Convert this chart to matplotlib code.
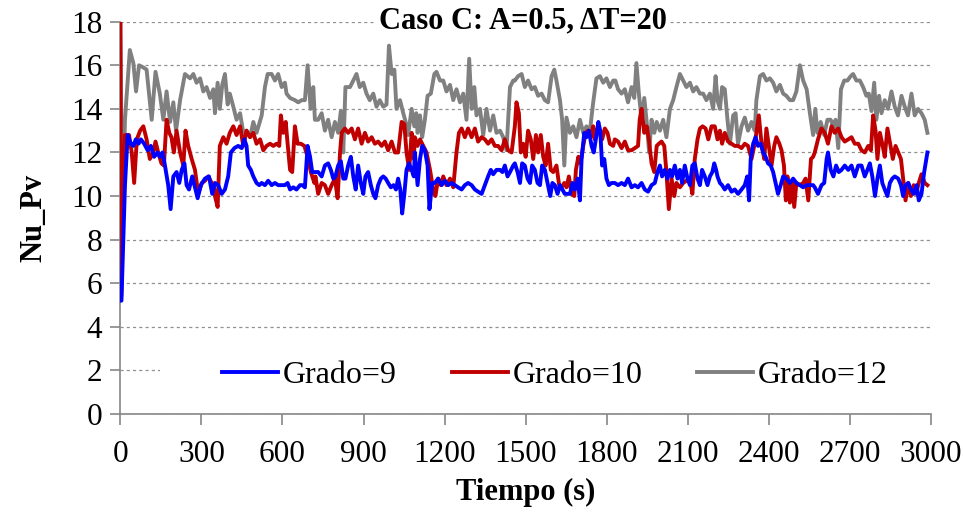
import matplotlib
matplotlib.use("Agg")
import matplotlib.pyplot as plt
from matplotlib.patches import Rectangle

plt.rcParams['font.family'] = ['Liberation Serif', 'DejaVu Serif']

# Grado=9 (blue)
t_9 = [0, 4, 17, 27, 39, 48, 57, 67, 76, 88, 101, 113, 125, 138, 146, 156, 165, 177, 186,
       196, 208, 218, 227, 237, 245, 254, 266, 276, 286, 298, 313, 328, 340,
       350, 362, 375, 387, 399, 409, 422, 436, 449, 459, 467, 473, 483, 492, 504, 514,
       523, 535, 547, 560, 572, 584, 597, 609, 619, 628, 640, 652, 665, 673, 683, 693,
       702, 710,
       720, 732, 745, 757, 769, 779, 788, 796, 806, 816, 825, 833, 843, 853, 862, 871,
       880, 890, 899, 907, 917, 927, 936, 944, 954, 964, 973, 982, 991, 1001, 1011,
       1020, 1028, 1036, 1043, 1051, 1059, 1068, 1078, 1086,
       1090, 1100, 1109, 1117, 1127, 1137, 1144, 1154, 1164, 1176, 1189, 1201, 1213,
       1226, 1238, 1250, 1263, 1275, 1287, 1300, 1312, 1324, 1337, 1349, 1361, 1371,
       1380, 1392, 1405, 1414, 1423, 1433, 1442, 1454,
       1460, 1470, 1479, 1487, 1497, 1507, 1516, 1524, 1534, 1544, 1553, 1561, 1571,
       1581, 1591, 1599, 1608, 1618, 1627, 1636, 1645, 1655, 1664, 1673, 1682, 1692,
       1701, 1707, 1717, 1725, 1734, 1744, 1752, 1761, 1769, 1776, 1783, 1791, 1799,
       1808, 1818,
       1830, 1842, 1855, 1867, 1879, 1892, 1904, 1916, 1929, 1941, 1953, 1966, 1978,
       1988, 1997, 2005, 2015, 2025, 2034, 2042, 2052, 2062, 2071, 2079, 2089, 2099,
       2108, 2117, 2126, 2136, 2145, 2153, 2163, 2173, 2182, 2191, 2198,
       2205, 2210, 2219, 2227, 2237, 2249, 2262, 2274, 2286, 2299, 2311, 2320, 2327,
       2333, 2342, 2351, 2360, 2370, 2379, 2388, 2397, 2407, 2416, 2425, 2434, 2444,
       2453, 2465, 2478, 2490, 2502, 2515, 2527, 2540, 2552, 2564,
       2570, 2582, 2595, 2605, 2614, 2619, 2629, 2639, 2649, 2659, 2669, 2681, 2694,
       2706, 2718, 2731, 2743, 2755, 2765, 2774, 2783, 2793, 2802, 2811, 2820, 2829,
       2839, 2848, 2857, 2866, 2879, 2889, 2897, 2906, 2916, 2926, 2936, 2947, 2955,
       2965, 2975, 2987]
nu_9 = [5.2, 5.2, 10.5, 12.8, 12.4, 12.3, 12.6, 12.4, 12.6, 12.4, 12.1, 12.3, 11.8, 12.0,
        11.8, 12.0, 11.4, 10.5, 9.4, 10.9, 11.1, 10.6, 11.2, 11.5, 10.5, 10.3, 10.9,
        10.4, 9.9, 10.5, 10.8, 10.9, 10.1,
        10.6, 10.5, 10.1, 10.3, 10.9, 12.0, 12.2, 12.3, 12.2, 12.6, 12.3, 11.4, 11.2,
        10.9, 10.6, 10.5, 10.6, 10.5, 10.7, 10.5, 10.6, 10.5, 10.5, 10.5, 10.6, 10.3,
        10.4, 10.3, 10.5, 10.5, 10.4, 12.3, 11.8, 11.1,
        11.1, 11.1, 10.9, 11.4, 11.5, 11.2, 10.8, 10.9, 11.4, 11.6, 10.8, 10.8, 11.4,
        11.8, 10.9, 10.3, 11.4, 10.6, 10.1, 10.9, 11.1, 10.5, 10.1, 9.9, 10.5, 10.8,
        10.9, 10.8, 10.6, 10.4, 10.5, 10.3, 10.8, 10.3, 9.2, 10.1, 11.2, 11.5, 11.2,
        10.9,
        12.0, 10.5, 11.7, 12.3, 12.1, 11.4, 9.4, 10.6, 10.6, 10.8, 10.5, 10.7, 10.5,
        10.6, 10.5, 10.4, 10.3, 10.5, 10.6, 10.5, 10.3, 10.2, 10.1, 10.5, 10.9, 11.2,
        11.0, 11.2, 11.2, 11.1, 11.4, 10.9, 11.1, 11.4,
        11.5, 11.1, 10.6, 11.5, 11.4, 10.8, 10.6, 11.4, 11.2, 10.6, 10.5, 11.4, 11.2,
        10.6, 10.0, 10.6, 10.5, 10.1, 10.5, 10.3, 10.1, 10.1, 10.1, 10.6, 10.3, 10.8,
        9.8, 11.7, 12.9, 12.7, 13.0, 12.3, 12.0, 12.7, 13.4, 13.0, 11.4, 11.7, 10.8,
        10.5, 10.6,
        10.6, 10.5, 10.6, 10.5, 10.8, 10.4, 10.5, 10.4, 10.6, 10.3, 10.2, 10.5, 10.6,
        11.1, 11.4, 10.9, 11.2, 10.8, 11.2, 10.9, 11.4, 10.8, 11.2, 10.6, 11.4, 10.8,
        10.5, 11.4, 11.5, 10.8, 10.5, 11.2, 10.9, 10.5, 10.9, 11.1, 11.5,
        11.2, 10.9, 10.6, 10.5, 10.3, 10.5, 10.2, 10.3, 10.1, 10.3, 10.5, 10.9, 9.8,
        11.7, 12.4, 12.7, 12.3, 12.4, 12.0, 11.8, 11.5, 11.4, 11.1, 10.6, 10.1, 10.5,
        10.9, 10.8, 10.6, 10.8, 10.6, 10.5, 10.4, 10.5, 10.5, 10.5,
        10.4, 10.1, 10.5, 10.6, 11.7, 12.0, 11.2, 10.9, 11.4, 11.1, 11.2, 11.4, 11.2,
        11.4, 10.9, 11.4, 11.4, 10.9, 11.2, 11.5, 10.9, 10.0, 10.8, 11.4, 10.6, 10.3,
        10.0, 10.6, 10.8, 10.9, 10.8, 10.5, 10.0, 10.5, 10.6, 10.3, 10.1, 10.5, 9.8,
        10.1, 11.1, 12.0]

# Grado=10 (red)
t_10 = [0, 3, 8, 17, 32, 42, 51, 61, 73, 85, 97, 109, 122, 130, 140, 152, 161, 171, 181,
        189, 198, 208, 221, 233, 241, 251, 264, 276, 288, 301, 313, 325, 338, 346,
        350, 360, 368, 381, 393, 405, 418, 430, 443, 455, 467, 480, 492, 504, 517, 529,
        541, 554, 566, 578, 588, 594, 603, 612, 619, 628, 636, 646, 656, 668, 681, 693,
        705, 718,
        722, 732, 745, 757, 769, 782, 794, 804, 813, 819, 831, 843, 856, 868, 880, 893,
        905, 917, 930, 942, 954, 967, 979, 991, 1004, 1016, 1028, 1041, 1051, 1059,
        1069, 1078, 1086,
        1090, 1100, 1109, 1121, 1133, 1146, 1158, 1166, 1176, 1186, 1195, 1207, 1220,
        1232, 1244, 1253, 1263, 1275, 1287, 1300, 1312, 1324, 1337, 1349, 1361, 1374,
        1386, 1398, 1411, 1423, 1435, 1448,
        1460, 1466, 1475, 1482, 1491, 1500, 1509, 1519, 1528, 1538, 1546, 1556, 1565,
        1574, 1583, 1593, 1602, 1614, 1624, 1633, 1643, 1651, 1660, 1670, 1680, 1686,
        1695, 1703, 1713, 1722, 1731, 1741, 1750, 1756, 1766, 1776, 1783, 1793, 1803,
        1812, 1824,
        1830, 1842, 1855, 1867, 1879, 1892, 1904, 1916, 1922, 1929, 1939, 1948, 1956,
        1966, 1976, 1985, 1993, 2003, 2013, 2021, 2030, 2040, 2050, 2058, 2071, 2083,
        2095, 2108, 2117, 2126, 2136, 2145, 2155, 2166, 2176, 2188,
        2200, 2210, 2219, 2227, 2237, 2249, 2262, 2274, 2286, 2299, 2311, 2323, 2336,
        2346, 2354, 2363, 2373, 2383, 2391, 2400, 2410, 2420, 2428, 2439, 2447, 2456,
        2463, 2469, 2478, 2487, 2494, 2502, 2515, 2527, 2536, 2546, 2556, 2564,
        2570, 2582, 2595, 2607, 2619, 2632, 2644, 2657, 2669, 2681, 2694, 2706, 2718,
        2731, 2743, 2755, 2768, 2778, 2786, 2795, 2802, 2811, 2820, 2829, 2839, 2849,
        2859, 2869, 2879, 2889, 2897, 2906, 2916, 2926, 2936, 2945, 2955, 2965, 2977,
        2987]
nu_10 = [18.0, 5.4, 8.6, 12.8, 12.8, 12.0, 10.6, 12.6, 13.0, 13.2, 12.6, 11.7, 12.0, 12.5,
         12.0, 11.5, 11.4, 13.5, 12.9, 12.7, 12.0, 13.0, 12.0, 11.4, 13.0, 12.3, 11.7,
         11.2, 10.1, 10.6, 10.7, 10.9, 10.6, 10.5,
         10.0, 9.5, 12.3, 12.7, 12.4, 12.9, 13.2, 12.8, 13.2, 12.3, 13.0, 12.7, 12.9,
         12.4, 12.6, 12.1, 12.3, 12.4, 12.3, 12.4, 12.3, 13.7, 12.9, 13.4, 12.4, 11.2,
         11.1, 13.2, 12.4, 12.4, 12.3, 11.8, 11.1, 10.6,
         10.9, 10.1, 10.6, 10.5, 10.1, 10.5, 10.8, 9.9, 12.0, 12.9, 13.1, 12.9, 13.1,
         12.6, 13.1, 12.4, 12.9, 12.5, 12.7, 12.4, 12.5, 12.3, 12.5, 12.1, 12.5, 12.0,
         12.0, 13.4, 13.3, 12.0, 11.2, 12.9, 11.7,
         12.7, 12.3, 12.6, 12.3, 12.0, 11.2, 10.3, 10.0, 10.8, 10.5, 10.9, 10.5, 10.8,
         10.4, 12.0, 12.9, 13.1, 12.7, 13.1, 12.7, 13.1, 12.5, 12.7, 12.6, 12.4, 12.6,
         12.3, 12.3, 12.1, 12.6, 12.1, 12.0,
         13.2, 14.3, 13.8, 12.0, 12.4, 11.8, 13.0, 12.6, 11.7, 12.8, 12.0, 12.8, 11.8,
         11.4, 12.4, 11.2, 11.1, 11.4, 10.5, 10.4, 10.6, 10.4, 10.9, 10.1, 10.0, 11.2,
         11.8, 11.5, 12.3, 12.9, 13.0, 12.7, 13.2, 12.6, 13.1, 13.0, 12.6, 13.1, 12.9,
         12.4, 12.3,
         12.6, 12.5, 12.2, 12.5, 12.1, 12.1, 12.2, 12.3, 13.5, 14.0, 12.9, 13.2, 12.6,
         11.5, 11.1, 12.3, 12.4, 12.5, 12.3, 11.1, 9.4, 10.8, 10.0, 10.6, 10.4, 10.6,
         10.7, 10.8, 10.1, 11.7, 12.6, 13.1, 13.2, 13.1, 12.6, 13.2,
         13.2, 12.6, 13.0, 12.4, 12.9, 12.5, 12.4, 12.3, 12.3, 12.2, 12.4, 12.3, 11.7,
         12.3, 12.9, 13.7, 12.4, 11.7, 13.1, 12.3, 11.4, 12.3, 12.7, 12.4, 12.1, 11.4,
         9.8, 10.9, 9.7, 10.6, 9.5, 10.6, 10.5, 10.6, 10.8, 9.8, 11.7, 11.8,
         12.0, 12.6, 13.1, 12.9, 12.4, 13.2, 12.9, 13.1, 12.7, 12.5, 12.6, 12.7, 12.4,
         12.4, 12.1, 12.0, 12.3, 12.1, 13.7, 13.0, 11.7, 12.9, 12.4, 11.8, 13.1, 12.4,
         11.7, 12.3, 12.0, 11.7, 10.8, 9.8, 10.6, 10.0, 10.5, 10.1, 10.6, 11.0, 10.6,
         10.5]

# Grado=12 (gray)
t_12 = [0, 7, 17, 35, 48, 58, 69, 85, 97, 116, 130, 146, 159, 171, 184, 196, 206, 221,
        239, 258, 270, 282, 295, 307, 319, 332, 344,
        350, 360, 368, 377, 387, 397, 405, 418, 430, 443, 455, 467, 480, 492, 504, 523,
        535, 545, 560, 572, 584, 597, 609, 615, 628, 646, 658, 671, 683, 693, 704, 714,
        720, 732, 745, 757, 769, 782, 794, 806, 816, 825, 833, 850, 862, 874, 886, 899,
        911, 923, 936, 948, 960, 973, 985, 994, 1004, 1014, 1022, 1035, 1047, 1056,
        1065, 1078, 1088,
        1095, 1100, 1109, 1117, 1127, 1137, 1149, 1162, 1170, 1183, 1195, 1207, 1220,
        1232, 1244, 1257, 1269, 1281, 1291, 1300, 1310, 1318, 1331, 1343, 1355, 1368,
        1380, 1392, 1405, 1417, 1429, 1442, 1454,
        1460, 1472, 1485, 1497, 1509, 1522, 1534, 1546, 1559, 1571, 1583, 1596, 1606,
        1614, 1627, 1635, 1643, 1651, 1664, 1676, 1688, 1701, 1713, 1725, 1738, 1750,
        1762, 1775, 1787, 1799, 1812, 1824,
        1832, 1842, 1855, 1867, 1879, 1892, 1902, 1910, 1919, 1929, 1939, 1948, 1957,
        1966, 1976, 1985, 1997, 2009, 2021, 2034, 2046, 2058, 2071, 2083, 2095, 2108,
        2120, 2132, 2145, 2157, 2169, 2182, 2194,
        2203, 2210, 2219, 2227, 2237, 2247, 2256, 2268, 2277, 2286, 2299, 2311, 2323,
        2336, 2348, 2354, 2367, 2379, 2391, 2404, 2416, 2428, 2441, 2453, 2465, 2478,
        2490, 2502, 2515, 2527, 2540, 2552, 2564,
        2572, 2580, 2592, 2605, 2617, 2629, 2638, 2647, 2657, 2667, 2679, 2691, 2703,
        2712, 2724, 2737, 2749, 2761, 2770, 2780, 2790, 2798, 2808, 2817, 2829, 2841,
        2854, 2866, 2878, 2891, 2903, 2915, 2928, 2940, 2952, 2965, 2977, 2987]
nu_12 = [18.0, 8.6, 13.5, 16.7, 16.1, 14.8, 16.0, 15.9, 15.8, 13.5, 15.7, 14.7, 13.5, 14.8,
         13.4, 14.3, 13.0, 14.4, 15.6, 15.4, 15.6, 15.2, 15.4, 14.8, 15.0, 14.5, 14.9,
         13.8, 15.2, 14.0, 15.1, 15.6, 14.2, 14.7, 14.1, 13.5, 13.8, 12.9, 13.0, 12.7,
         13.4, 12.9, 13.7, 15.0, 15.6, 15.6, 15.3, 15.6, 15.0, 15.2, 14.7, 14.5, 14.4,
         14.3, 14.4, 14.4, 16.0, 14.0, 15.0,
         13.5, 13.5, 13.8, 13.0, 13.5, 12.7, 13.4, 12.9, 13.9, 12.0, 15.0, 15.0, 15.3,
         15.6, 15.0, 15.2, 14.7, 14.4, 14.7, 14.1, 14.4, 14.1, 14.2, 16.9, 15.6, 15.8,
         14.0, 14.4, 13.8, 13.4, 12.8, 14.0, 13.2,
         13.8, 12.9, 13.7, 12.7, 13.5, 14.6, 14.7, 15.6, 15.7, 15.3, 15.3, 14.8, 15.1,
         14.4, 14.9, 14.3, 14.7, 13.5, 16.3, 14.0, 15.0, 13.7, 14.0, 12.8, 14.0, 13.0,
         13.7, 12.9, 13.0, 12.7, 12.1, 15.0, 15.3,
         15.3, 15.5, 15.6, 15.0, 15.3, 14.9, 15.0, 14.6, 14.7, 14.4, 14.3, 15.5, 15.8,
         15.3, 14.4, 13.5, 11.4, 13.6, 12.9, 13.2, 12.7, 13.5, 12.9, 13.2, 13.0, 14.3,
         15.4, 15.5, 15.2, 15.4, 15.0, 15.3,
         15.3, 14.9, 14.7, 14.9, 14.3, 15.0, 14.5, 16.1, 14.7, 13.5, 14.5, 13.4, 12.0,
         13.5, 12.9, 13.4, 13.0, 13.5, 12.7, 14.0, 14.4, 15.0, 15.6, 15.3, 15.0, 15.2,
         14.8, 15.0, 14.7, 14.7, 14.4, 14.7, 14.0,
         15.5, 14.4, 14.0, 15.0, 14.9, 13.5, 12.4, 13.7, 13.8, 12.4, 13.2, 13.6, 13.0,
         13.4, 13.0, 14.4, 15.5, 15.6, 15.3, 15.4, 15.2, 14.8, 15.1, 14.7, 14.6, 14.4,
         14.4, 14.8, 16.0, 15.3, 14.9, 13.8, 12.8,
         14.0, 12.9, 13.4, 12.8, 13.5, 13.5, 13.2, 13.5, 12.2, 14.9, 15.3, 15.3, 15.5,
         15.6, 15.3, 15.3, 15.0, 14.6, 14.7, 13.9, 15.2, 13.5, 14.6, 13.8, 14.4, 14.0,
         14.8, 14.1, 13.7, 14.6, 14.1, 13.7, 14.7, 13.7, 14.0, 13.8, 13.5, 12.9]

fig = plt.figure(figsize=(9.63, 5.14), dpi=100)
ax = fig.add_axes([0.125, 0.1946, 0.8417, 0.7632])

ax.plot(t_9, nu_9, color='#0000FF', lw=2.8, label='Grado=9', zorder=3)
ax.plot(t_10, nu_10, color='#C00000', lw=2.8, label='Grado=10', zorder=2.9)
ax.plot(t_12, nu_12, color='#808080', lw=2.8, label='Grado=12', zorder=2.8)

ax.set_xlim(0, 3000)
ax.set_ylim(0, 18)
ax.set_xticks(range(0, 3001, 300))
ax.set_yticks(range(0, 19, 2))
ax.yaxis.grid(True, color='#909090', linestyle=(0, (2.5, 2.5)), linewidth=0.9)
ax.set_axisbelow(True)

for side in ['top', 'right']:
    ax.spines[side].set_visible(False)
for side in ['left', 'bottom']:
    ax.spines[side].set_color('#868686')
    ax.spines[side].set_linewidth(1.2)

ax.tick_params(axis='both', colors='#868686', labelcolor='black', labelsize=22.5,
               direction='out', width=1.2)
ax.tick_params(axis='x', length=8, pad=11)
ax.tick_params(axis='y', length=7, pad=6)

ax.set_xlabel('Tiempo (s)', fontsize=22, fontweight='bold', labelpad=6)
ax.set_ylabel('Nu_Pv', fontsize=22, fontweight='bold', labelpad=16)

fig.text(0.543, 0.960, 'Caso C: A=0.5, ΔT=20', fontsize=22, fontweight='bold',
         ha='center', va='center', zorder=5,
         bbox=dict(facecolor='white', edgecolor='none', pad=2))

# white band behind the legend (hides the gridline at 2, as in the original)
ax.add_patch(Rectangle((0.049, 0.055), 0.951, 0.09, transform=ax.transAxes,
                       facecolor='white', edgecolor='none', zorder=1.5))

leg = ax.legend(loc='center', bbox_to_anchor=(0.536, 0.099), ncol=3, fontsize=23,
                frameon=False, handlelength=1.75, handletextpad=0.15,
                columnspacing=1.72, borderaxespad=0)
leg.set_zorder(4)

fig.savefig('out.png', dpi=100)
